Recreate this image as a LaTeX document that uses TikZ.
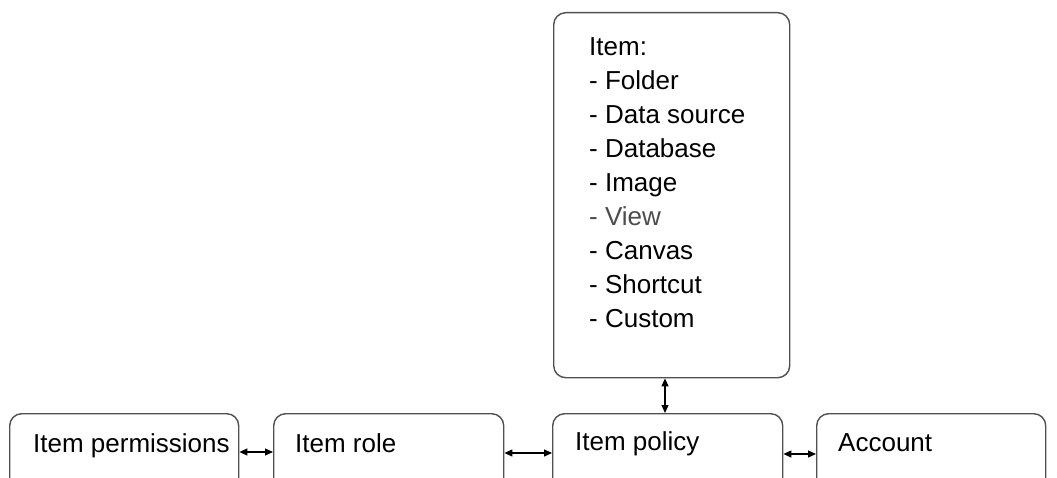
\documentclass[tikz,border=0pt]{standalone}
\usepackage{fontspec}
\setmainfont{Liberation Sans}
\usetikzlibrary{arrows.meta}
\definecolor{boxline}{HTML}{505050}
\tikzset{
  box/.style={draw=boxline, line width=1.4pt, rounded corners=12pt, fill=white, inner sep=0pt},
  lbl/.style={anchor=base west, inner sep=0pt, font=\fontsize{26}{34}\selectfont},
  arr/.style={{Triangle[length=8pt,width=7pt]}-{Triangle[length=8pt,width=7pt]}, line width=1.2pt, black}
}
\begin{document}
\begin{tikzpicture}[x=1pt,y=-1pt]
\useasboundingbox (0,0) rectangle (1057,478);
\clip (0,0) rectangle (1057,478);
\node[box, minimum width=236pt, minimum height=365pt, anchor=north west] (item) at (553,12) {};
\node[box, minimum width=229pt, minimum height=100pt, anchor=north west] (perm) at (9,413) {};
\node[box, minimum width=230pt, minimum height=100pt, anchor=north west] (role) at (273,413) {};
\node[box, minimum width=230pt, minimum height=100pt, anchor=north west] (policy) at (552,413) {};
\node[box, minimum width=229pt, minimum height=100pt, anchor=north west] (account) at (816,413) {};
\node[anchor=north west, inner sep=0pt, align=left, font=\fontsize{26}{34}\selectfont] (itemtext) at (589,37.4)
  {Item:\\- Folder\\- Data source\\- Database\\- Image\\{\color{black!70}- View}\\- Canvas\\- Shortcut\\- Custom};
\node[lbl] (permtext) at (33,452) {Item permissions};
\node[lbl] (roletext) at (295,452) {Item role};
\node[lbl] (policytext) at (575,450) {Item policy};
\node[lbl] (accounttext) at (838,451) {Account};
\draw[arr] (perm.east |- 0,452) -- (role.west |- 0,452);
\draw[arr] (role.east |- 0,453) -- (policy.west |- 0,453);
\draw[arr] (policy.east |- 0,454) -- (account.west |- 0,454);
\draw[arr] (item.south -| 665,0) -- (policy.north -| 665,0);
\end{tikzpicture}
\end{document}
